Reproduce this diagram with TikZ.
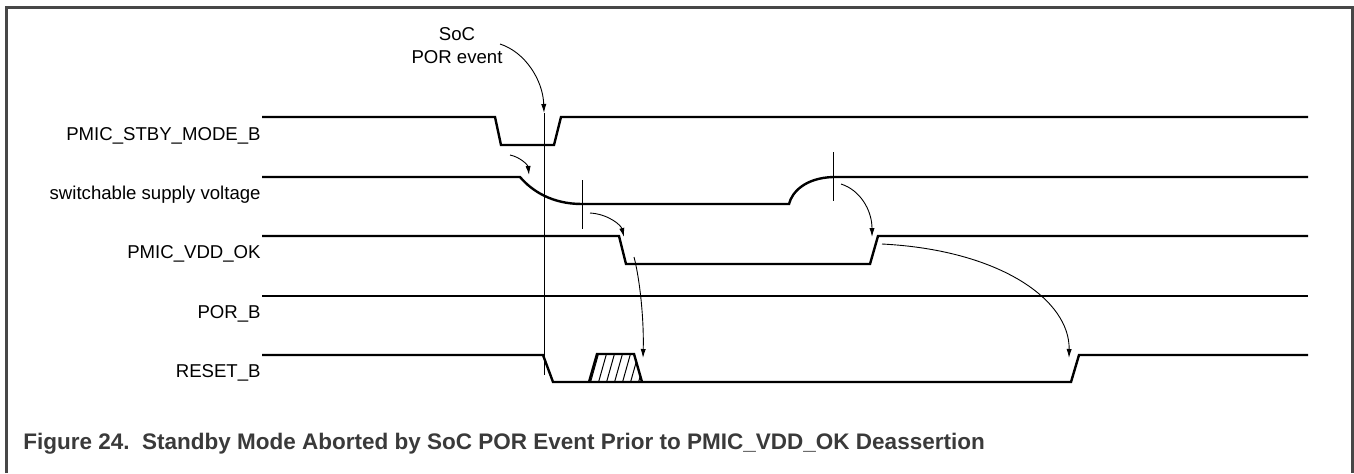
\documentclass[tikz,border=0pt]{standalone}
\usepackage{fontspec}
\setmainfont{Liberation Sans}
\usetikzlibrary{arrows.meta}
\definecolor{framegray}{HTML}{474747}
\definecolor{capgray}{HTML}{3A3A3A}

\begin{document}
\begin{tikzpicture}[
  x=0.5pt, y=-0.5pt,
  signal/.style={line width=1.2pt, line join=miter},
  marker/.style={line width=0.5pt},
  arrow/.style={->, line width=0.45pt, >={Latex[length=4.5pt,width=2.6pt]}},
  siglabel/.style={anchor=base east, inner sep=0pt, font=\fontsize{9.3}{11.5}\selectfont}
]
\useasboundingbox (0,0) rectangle (1354,473);

% Frame
\draw[framegray, line width=1.5pt] (6.5,473) -- (6.5,7.5) -- (1352.5,7.5) -- (1352.5,473);

% Signal names
\node[siglabel] (stby)   at (261,140) {PMIC\_STBY\_MODE\_B};
\node[siglabel] (supply) at (261,199) {switchable supply voltage};
\node[siglabel] (vddok)  at (261,258) {PMIC\_VDD\_OK};
\node[siglabel] (porb)   at (261,318) {POR\_B};
\node[siglabel] (resetb) at (261,377) {RESET\_B};

% Waveforms (top to bottom)
\draw[signal] (262,117) -- (495,117) -- (501,145) -- (554,145) -- (561,117) -- (1308,117);
\draw[signal] (262,177) -- (520,177) .. controls (532,191) and (552,204) .. (582,204)
  -- (789,204) .. controls (792,192) and (805,178) .. (833,177) -- (1308,177);
\draw[signal] (262,236) -- (619,236) -- (626,264) -- (870,264) -- (878,236) -- (1308,236);
\draw[signal] (262,296) -- (1308,296);
\draw[signal] (262,355) -- (543,355) -- (553,382) -- (1071,382) -- (1079,355) -- (1308,355);

% Undefined pulse on RESET_B
\begin{scope}
  \clip (589,382) -- (597,354) -- (634,354) -- (642,382) -- cycle;
  \foreach \i in {0,...,7}
    \draw[marker] ({582+8*\i},384) -- ({591+8*\i},352);
\end{scope}
\draw[signal] (589,382) -- (597,354) -- (634,354) -- (642,382);

% SoC POR event
\node[font=\fontsize{9.3}{11.5}\selectfont, align=center, anchor=north, inner sep=0pt] (socev) at (457,27) {SoC\\POR event};
\draw[marker] (544,113) -- (544,375);

% Time markers
\draw[marker] (582,180) -- (582,229);
\draw[marker] (833,152) -- (833,201);

% Arrow ends
\coordinate (a1) at (500,44);  \coordinate (b1) at (544,113);
\coordinate (a2) at (510,155); \coordinate (b2) at (529,175);
\coordinate (a3) at (590,213); \coordinate (b3) at (624,237);
\coordinate (a4) at (634,257); \coordinate (b4) at (643,358);
\coordinate (a5) at (841,184); \coordinate (b5) at (872,237);
\coordinate (a6) at (882,244); \coordinate (b6) at (1069,358);

% Cause and effect arrows
\draw[arrow] (a1) .. controls (525,52) and (543,80) .. (b1);
\draw[arrow] (a2) .. controls (520,157) and (528,165) .. (b2);
\draw[arrow] (a3) .. controls (608,214) and (621,225) .. (b3);
\draw[arrow] (a4) .. controls (640,280) and (644,320) .. (b4);
\draw[arrow] (a5) .. controls (860,190) and (872,210) .. (b5);
\draw[arrow] (a6) .. controls (1000,250) and (1070,300) .. (b6);

% Caption
\node[anchor=base west, inner sep=0pt, text=capgray, font=\fontsize{11.25}{13}\selectfont\bfseries] (caption) at (23,449)
  {Figure 24.\ \ Standby Mode Aborted by SoC POR Event Prior to PMIC\_VDD\_OK Deassertion};

\end{tikzpicture}
\end{document}
